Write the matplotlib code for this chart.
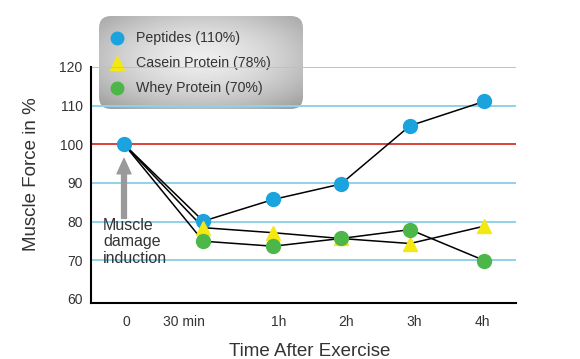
import numpy as np
import matplotlib.pyplot as plt
from matplotlib.patches import FancyBboxPatch

plt.rcParams['font.family'] = ['Liberation Sans', 'DejaVu Sans']

# time points (x positions follow the spacing of the original chart)
time_pos = [0, 1.1, 2.07, 3.01, 3.97, 5.0]
time_labels = ['0', '30 min', '1h', '2h', '3h', '4h']
label_pos = [0.03, 0.83, 2.15, 3.08, 4.03, 4.97]

peptides = [100, 80.1, 85.7, 89.7, 104.8, 111.1]
casein = [100, 78.4, 77.1, 75.6, 74.3, 78.8]
whey = [100, 74.9, 73.6, 75.6, 77.9, 69.9]

series_names = ['Peptides (110%)', 'Casein Protein (78%)', 'Whey Protein (70%)']
series_colors = ['#1ba3dd', '#f4e812', '#4cb748']
series_markers = ['o', '^', 'o']

blue_lines = [70, 80, 90, 110, 120]
baseline = 100

fig = plt.figure(figsize=(5.8, 3.59), dpi=100)

# legend box with gradient (drawn beneath the plot so grid lines cross it)
lax = fig.add_axes([99 / 580, 1 - 109 / 359, 204 / 580, 93 / 359], zorder=-1)
lax.set_xlim(0, 1)
lax.set_ylim(0, 1)
lax.axis('off')
gx, gy = np.meshgrid(np.linspace(-1, 1, 200), np.linspace(-1, 1, 100))
r = np.sqrt(gx ** 2 + (gy + 0.1) ** 2) / np.sqrt(2)
grad = 0.93 - 0.30 * r ** 1.6
img = lax.imshow(grad, cmap='gray', vmin=0, vmax=1, extent=[0, 1, 0, 1],
                 aspect='auto', zorder=0)
box = FancyBboxPatch((0, 0), 1, 1, boxstyle='round,pad=0,rounding_size=0.06',
                     mutation_aspect=204 / 93, transform=lax.transAxes,
                     facecolor='none', edgecolor='none')
lax.add_patch(box)
img.set_clip_path(box)

leg_y = [0.76, 0.49, 0.225]
for name, col, mk, yy in zip(series_names, series_colors, series_markers, leg_y):
    lax.plot(0.088, yy, marker=mk, ms=9 if mk == 'o' else 10, color=col, ls='none')
    lax.text(0.18, yy, name, fontsize=10.2, color='#333333', va='center', ha='left')

ax = fig.add_axes([91 / 580, 1 - 303 / 359, 425 / 580, 236 / 359])
ax.patch.set_visible(False)

for y in blue_lines:
    ax.axhline(y, color='#8fd2ea', lw=1.4, zorder=1)
ax.axhline(baseline, color='#d8403a', lw=1.4, zorder=1)

for vals, col, mk in zip([peptides, casein, whey], series_colors, series_markers):
    ax.plot(time_pos, vals, color='black', lw=1.1, zorder=2)
    ax.plot(time_pos[1:], vals[1:], ls='none', marker=mk, ms=10 if mk == 'o' else 9.5,
            color=col, mec=col, zorder=3)
# shared start point
ax.plot(time_pos[0], peptides[0], 'o', ms=10, color=series_colors[0], zorder=4)

ax.annotate('', xy=(0, 96.3), xytext=(0, 80.8),
            arrowprops=dict(facecolor='#9a9a9a', edgecolor='#9a9a9a',
                            width=3.5, headwidth=10, headlength=11))
ax.text(-0.29, 81.0, 'Muscle\ndamage\ninduction', fontsize=11.5, color='#333333',
        va='top', ha='left', linespacing=1.12)

ax.set_xlim(-0.458, 5.44)
ax.set_ylim(58.9, 120)
ax.set_yticks([60, 70, 80, 90, 100, 110, 120])
ax.set_xticks(label_pos)
ax.set_xticklabels(time_labels)
ax.tick_params(length=0, labelsize=10, labelcolor='#333333')
ax.tick_params(axis='x', pad=9)
ax.tick_params(axis='y', pad=6)
for s in ['top', 'right']:
    ax.spines[s].set_visible(False)
ax.spines['left'].set_linewidth(1.5)
ax.spines['bottom'].set_linewidth(1.5)

ax.set_ylabel('Muscle Force in %', fontsize=13.5, color='#333333')
ax.yaxis.set_label_coords(-0.12, 0.545)
ax.set_xlabel('Time After Exercise', fontsize=13.5, color='#333333')
ax.xaxis.set_label_coords(0.515, -0.17)

fig.savefig('out.png', dpi=100)
